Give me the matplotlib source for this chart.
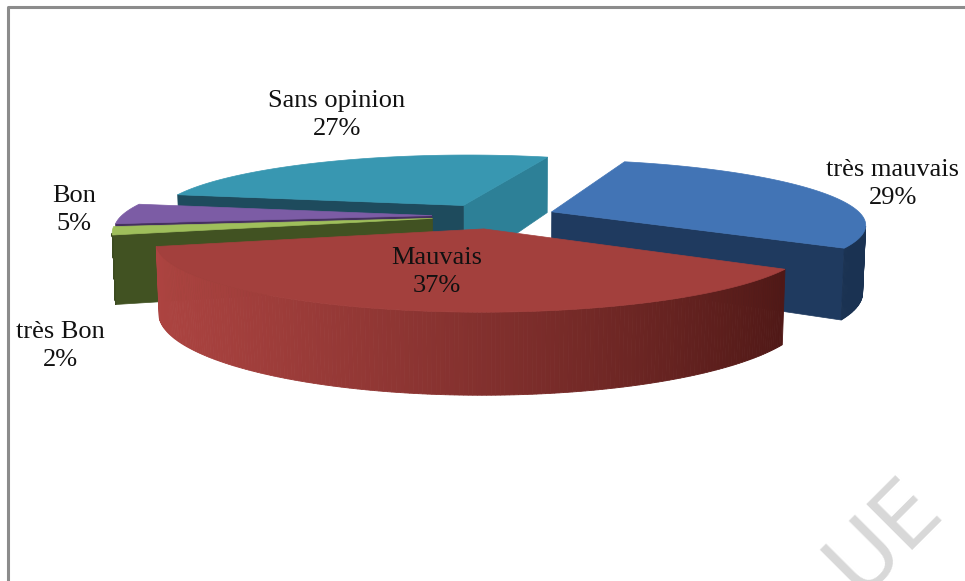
import numpy as np
import matplotlib
matplotlib.use("Agg")
import matplotlib.pyplot as plt
from matplotlib.patches import Polygon
from matplotlib.colors import to_rgb

# ---- data -------------------------------------------------------------
categories = ["très mauvais", "Mauvais", "très Bon", "Bon", "Sans opinion"]
percent = [29, 37, 2, 5, 27]

# ---- styling ----------------------------------------------------------
top_colors = ["#4274b5", "#a3403d", "#9fbf5b", "#7c5ca5", "#3897b1"]
side_light = ["#1d3759", "#ad4441", "#3c4c20", "#3c2b55", "#1d4a5b"]
side_dark = ["#1a3252", "#4f1816", "#3c4c20", "#3c2b55", "#1d4a5b"]
radial_lo_colors = ["#1f3a5f", "#5a1d1b", "#3a491f", "#3c2b55", "#2d8097"]
radial_hi_colors = ["#1f3a5f", "#8c3431", "#415222", "#45305f", "#1e4b5d"]
label_xy = [(893, 184), (437, 272), (60, 346), (74, 210), (337, 115)]

start_angle = 72.0      # degrees, slices run clockwise
explode = 0.20
thickness = 0.219

# perspective camera
phi = np.radians(11.7)
cphi, sphi = np.cos(phi), np.sin(phi)
D, F = 5.44, 1690.0
X0, Y0 = 494.0, 216.0
cam = np.array([0.0, -D * cphi, D * sphi])


def proj(u, v, z):
    u = np.asarray(u, float)
    v = np.asarray(v, float)
    z = np.asarray(z, float) * np.ones_like(u)
    depth = D + v * cphi - z * sphi
    return X0 + F * u / depth, Y0 - F * (v * sphi + z * cphi) / depth


def mix(c1, c2, t):
    a, b = np.array(to_rgb(c1)), np.array(to_rgb(c2))
    return tuple(a + (b - a) * t)


fig = plt.figure(figsize=(9.65, 5.81), dpi=100)
ax = fig.add_axes([0, 0, 1, 1])
ax.set_xlim(0, 965)
ax.set_ylim(581, 0)
ax.axis("off")

# chart frame
ax.plot([8, 8, 965], [581, 7, 7], color="#8c8c8c", lw=2.2, solid_capstyle="butt")

# watermark
ax.text(884, 536, "UE", rotation=45, fontsize=64, color="#d8d8d8",
        family="DejaVu Sans", ha="center", va="center", zorder=0)

# slice geometry
total = float(sum(percent))
slices = []
acc = 0.0
for i, p in enumerate(percent):
    hi = start_angle - acc / total * 360.0
    lo = hi - p / total * 360.0
    acc += p
    mid = np.radians((hi + lo) / 2)
    cu, cv = explode * np.cos(mid), explode * np.sin(mid)
    slices.append(dict(i=i, lo=np.radians(lo), hi=np.radians(hi), cu=cu, cv=cv))

# painter's order: back slices first
order = sorted(slices, key=lambda s: -s["cv"])

z_top, z_bot = 0.0, -thickness
for s in order:
    i = s["i"]
    cu, cv = s["cu"], s["cv"]
    th = np.linspace(s["lo"], s["hi"], 200)
    au, av = cu + np.cos(th), cv + np.sin(th)
    zo = 10

    # radial faces
    for ang, sign, col in ((s["lo"], 1, radial_lo_colors[i]),
                           (s["hi"], -1, radial_hi_colors[i])):
        n = np.array([sign * np.sin(ang), -sign * np.cos(ang), 0.0])
        if n @ (cam - np.array([cu, cv, 0.0])) > 0:
            eu, ev = cu + np.cos(ang), cv + np.sin(ang)
            xs, ys = proj([cu, eu, eu, cu], [cv, ev, ev, cv],
                          [z_top, z_top, z_bot, z_bot])
            ax.add_patch(Polygon(np.column_stack([xs, ys]), closed=True,
                                 facecolor=col, edgecolor=col, lw=0.5, zorder=zo))

    # curved outer side, drawn in thin strips for shading
    vis = np.cos(th) * (0 - au) + np.sin(th) * (cam[1] - av) > 0
    idx = np.where(vis)[0]
    if len(idx) > 1:
        for k in range(idx[0], idx[-1]):
            t0, t1 = th[k], th[k + 1]
            uu = [cu + np.cos(t0), cu + np.cos(t1), cu + np.cos(t1), cu + np.cos(t0)]
            vv = [cv + np.sin(t0), cv + np.sin(t1), cv + np.sin(t1), cv + np.sin(t0)]
            xs, ys = proj(uu, vv, [z_top, z_top, z_bot, z_bot])
            t = np.clip((np.cos((t0 + t1) / 2) + 1.0) / 1.85, 0, 1) ** 1.3
            col = mix(side_light[i], side_dark[i], t)
            ax.add_patch(Polygon(np.column_stack([xs, ys]), closed=True,
                                 facecolor=col, edgecolor=col, lw=0.6, zorder=zo))

    # top face
    xs, ys = proj(np.r_[cu, au], np.r_[cv, av], z_top)
    ax.add_patch(Polygon(np.column_stack([xs, ys]), closed=True,
                         facecolor=top_colors[i], edgecolor=top_colors[i],
                         lw=0.5, zorder=zo))

    ax.text(*label_xy[i], f"{categories[i]}\n{percent[i]}%", ha="center",
            va="center", multialignment="center", fontsize=19,
            family="Liberation Serif", color="#111111", zorder=20,
            linespacing=1.4)

fig.savefig("out.png", dpi=100)
